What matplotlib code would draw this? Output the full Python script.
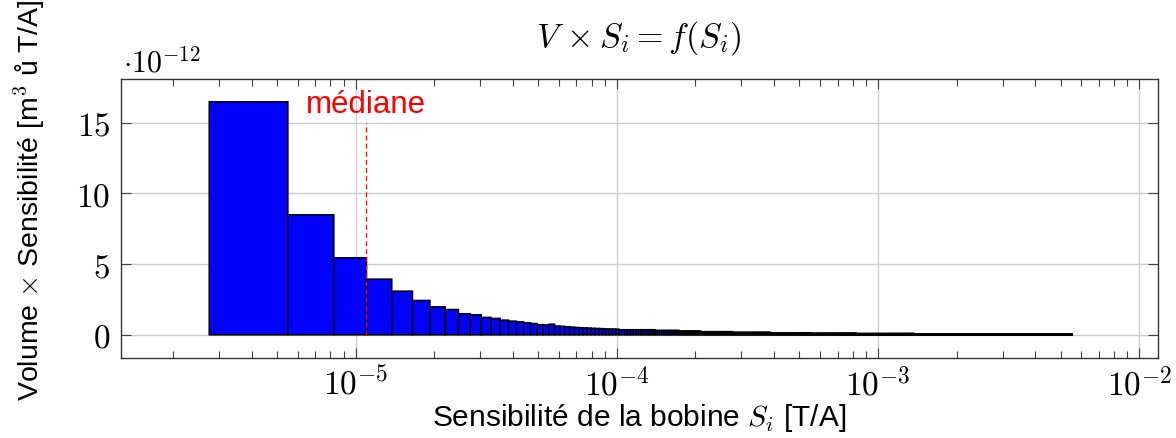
import numpy as np
import matplotlib
matplotlib.use("Agg")
import matplotlib.pyplot as plt
from matplotlib.ticker import FixedLocator, LogLocator, NullFormatter, FuncFormatter

plt.rcParams['mathtext.fontset'] = 'cm'
plt.rcParams['font.family'] = ['Liberation Sans', 'DejaVu Sans']

# bins of sensitivity S_i [T/A], constant width (linear binning shown on log axis)
bin_width = 2.75e-6
n_bins = 2014

# first bins, heights read one by one (x 1e-12)
first_heights = [16.49, 8.49, 5.45, 3.94, 3.09, 2.43, 1.98, 1.79, 1.49, 1.42,
                 1.23, 1.16, 1.04, 0.97, 0.92, 0.85, 0.80, 0.72, 0.70, 0.75,
                 0.62, 0.60, 0.57, 0.55, 0.52, 0.50, 0.49, 0.48, 0.46, 0.45,
                 0.44, 0.43, 0.42, 0.41, 0.41, 0.40]
# tail: too thin to read bin by bin, read per group (bins in group, height)
tail_counts = [14, 12, 13, 25, 40, 60, 100, 200, 400, 1114]
tail_heights = [0.36, 0.31, 0.27, 0.22, 0.17, 0.13, 0.10, 0.08, 0.07, 0.06]

median_value = 1.1e-5

heights = np.concatenate([first_heights, np.repeat(tail_heights, tail_counts)])
left_edges = np.arange(1, n_bins + 1) * bin_width

fig = plt.figure(figsize=(11.76, 4.39), dpi=100)
ax = fig.add_axes([120.7/1176, 1 - 358.7/439, (1158 - 120.7)/1176, (358.7 - 80)/439])

bars = ax.bar(left_edges, heights, width=bin_width, align='edge',
              color='#0000ff', edgecolor='black', linewidth=1.1, zorder=2)
for b in bars:
    b.set_snap(False)

ax.vlines(median_value, 0, 15, colors='red', linestyles=(0, (4, 2.5)),
          linewidth=0.9, zorder=3)
ax.text(median_value, 16.35, "médiane", color='red', fontsize=22.5,
        ha='center', va='center', zorder=4)

ax.set_xscale('log')
ax.set_xlim(1.26e-6, 1.18e-2)
ax.set_ylim(-1.62, 18.1)

ax.xaxis.set_major_locator(LogLocator(base=10, numticks=20))
ax.xaxis.set_minor_locator(LogLocator(base=10, subs=np.arange(2, 10), numticks=50))
ax.xaxis.set_minor_formatter(NullFormatter())
ax.xaxis.set_major_formatter(FuncFormatter(lambda v, _: r"$10^{%d}$" % int(round(np.log10(v)))))
ax.yaxis.set_major_locator(FixedLocator([0, 5, 10, 15]))
ax.yaxis.set_major_formatter(FuncFormatter(lambda v, _: r"$%d$" % int(v)))

ax.grid(True, which='major', color='#cccccc', linewidth=1.0)
ax.set_axisbelow(True)

ax.tick_params(which='both', direction='in', top=True, right=True,
               color='#444444', width=0.8, labelsize=24)
ax.tick_params(which='major', length=7.5)
ax.tick_params(which='minor', length=5)
ax.tick_params(axis='x', pad=6.5)
ax.tick_params(axis='y', pad=7.5)
for sp in ax.spines.values():
    sp.set_color('#333333')
    sp.set_linewidth(1.0)

fig.text(123/1176, 1 - 72/439, r"$\cdot 10^{-12}$", fontsize=21.5,
         ha='left', va='baseline')
fig.text(639/1176, 1 - 38/439, r"$V\,\times S_i = f(S_i)$", fontsize=24.5,
         ha='center', va='center')
fig.text(639/1176, 1 - 418/439, r"Sensibilité de la bobine $S_i$ [T/A]",
         fontsize=21.5, ha='center', va='center')
fig.text(30/1176, 1 - 200/439, r"Volume $\times$ Sensibilité [m$^3$ ů T/A]",
         fontsize=20.5, ha='center', va='center', rotation=90)

fig.savefig("out.png", dpi=100)
